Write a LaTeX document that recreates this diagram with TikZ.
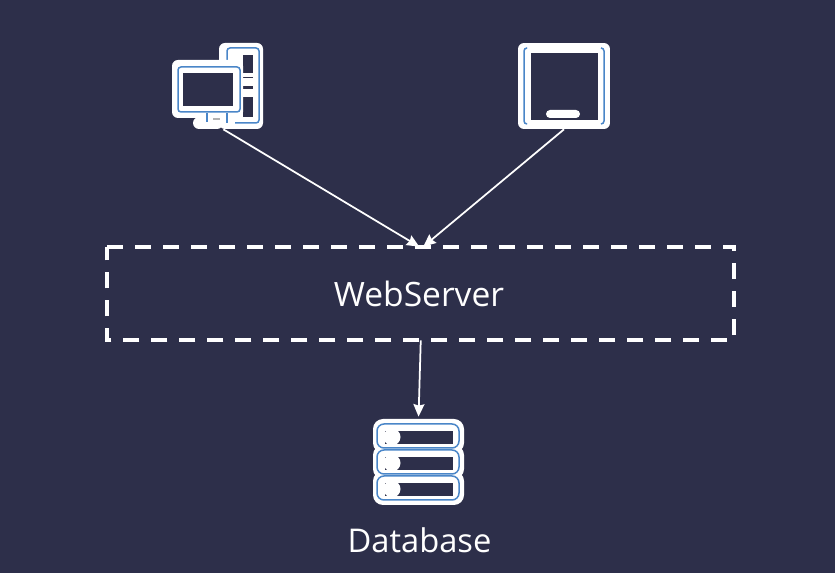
\documentclass[tikz,border=0pt]{standalone}
\usepackage{fontspec}
\setmainfont{Open Sans}
\usetikzlibrary{arrows.meta}
\definecolor{bgdark}{HTML}{2D2F4A}
\definecolor{iconblue}{HTML}{4A86C8}
\tikzset{
	whitepart/.style={fill=white,draw=none,rounded corners=0.12cm},
	darkpart/.style={fill=bgdark,draw=none},
	blueline/.style={draw=iconblue,line width=0.03cm,rounded corners=0.06cm},
	link/.style={draw=white,line width=0.035cm,-{Stealth[length=0.25cm,width=0.22cm,inset=0.03cm]}},
	label/.style={text=white,font=\fontsize{19.1}{24}\selectfont,inner sep=0pt},
	dashbox/.style={draw=white,line width=0.08cm,dash pattern=on 0.32cm off 0.24cm}
}

\begin{document}
\begin{tikzpicture}[x=0.02cm,y=-0.02cm]
		\fill[bgdark] (0,0) rectangle (835,573);
		\useasboundingbox (0,0) rectangle (835,573);
		
		%%%%% desktop %%%%%
		\fill[whitepart] (219,43) rectangle (263,129);
		\draw[blueline] (227,60) -- (227,48) -- (259,48) -- (259,123) -- (227,123);
		\fill[darkpart] (243,55) rectangle (253,73);
		\fill[darkpart] (243,77) rectangle (253,78);
		\fill[darkpart] (243,86) rectangle (253,89);
		\fill[darkpart] (243,97) rectangle (253,117);
		\node[whitepart,inner sep=0pt,minimum width=0.6cm,minimum height=0.24cm] (pcbase) at (208,123) {};
		\fill[whitepart] (172,60) rectangle (243,118);
		\fill[white] (205,110) rectangle (235,125);
		\draw[blueline] (178,67) rectangle (240,112);
		\fill[darkpart] (183,73) rectangle (233,106);
		\draw[iconblue,line width=0.03cm] (207,113) -- (207,122) (227,113) -- (227,123);
		\fill[gray!60] (213,118) rectangle (220,120);
		
		%%%%% tablet %%%%%
		\node[whitepart,inner sep=0pt,minimum width=1.84cm,minimum height=1.72cm] (tablet) at (564,86) {};
		\draw[blueline] (527,48) -- (524,48) -- (524,124) -- (527,124);
		\draw[blueline] (601,48) -- (604,48) -- (604,124) -- (601,124);
		\fill[darkpart] (531,53) rectangle (598,120);
		\fill[white,rounded corners=0.08cm] (546,110) rectangle (580,118);
		
		%%%%% web server %%%%%
		\node[minimum width=12.53cm,minimum height=1.86cm,label] (webserver) at (420.75,293.5) {\hspace*{-0.07cm}WebServer};
		\draw[dashbox] (webserver.north west) -- (webserver.north east) -- (webserver.south east) -- (webserver.south west) -- cycle;
		
		%%%%% database %%%%%
		\node[inner sep=0pt,minimum width=1.82cm,minimum height=1.72cm] (db) at (418.5,462) {};
		\foreach \rowtop in {424,450,476} {
			\fill[whitepart,rounded corners=0.2cm] (373,\rowtop-5) rectangle (464,\rowtop+29);
		}
		\foreach \rowtop in {424,450,476} {
			\draw[blueline,rounded corners=0.14cm] (377,\rowtop) rectangle (459,\rowtop+24);
			\fill[darkpart] (385,\rowtop+7) rectangle (453,\rowtop+20);
			\fill[white] (392,\rowtop+13) circle (8.5);
		}
		\node[label,font=\fontsize{18.6}{24}\selectfont] (dblabel) at (419.5,540) {Database};
		
		\draw[link] (pcbase.south east) -- ([xshift=-0.03cm]webserver.north);
		\draw[link] (tablet.south) -- ([xshift=0.05cm]webserver.north);
		\draw[link,shorten >=0.04cm] (webserver.south) -- (db.north);
	\end{tikzpicture}
\end{document}
